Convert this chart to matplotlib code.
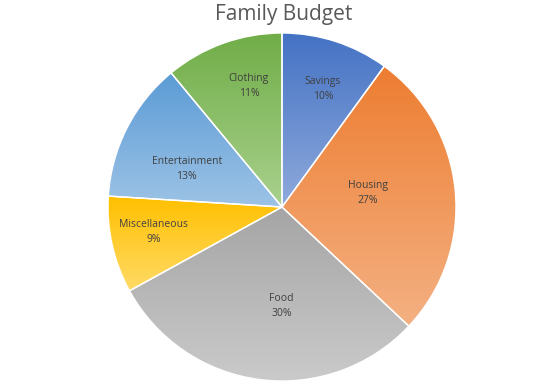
import numpy as np
import matplotlib
matplotlib.use("Agg")
import matplotlib.pyplot as plt
from matplotlib.colors import LinearSegmentedColormap

categories = ["Savings", "Housing", "Food", "Miscellaneous", "Entertainment", "Clothing"]
shares = [10, 27, 30, 9, 13, 11]

# gradient colours per slice: top (dark) -> bottom (light)
top_colors = ["#4472C4", "#ED7D31", "#A5A5A5", "#FFC000", "#5B9BD5", "#70AD47"]
bottom_colors = ["#8FAADC", "#F4B183", "#CACACA", "#FFDA66", "#9DC3E6", "#A9D18E"]
# label placement: fraction of radius and angle nudge (degrees) from slice middle
label_dist = [0.72, 0.50, 0.57, 0.75, 0.59, 0.72]
label_turn = [-1, 4, 7, -1.5, 5, -4.5]

plt.rcParams['font.family'] = ['Open Sans', 'DejaVu Sans']

fig = plt.figure(figsize=(5.6, 3.87), dpi=100)
ax = fig.add_axes([0, 0, 1, 1])

cx, cy, r = 282, 180, 174
wedges, _ = ax.pie(shares, startangle=90, counterclock=False, radius=r,
                   center=(cx, cy), frame=True,
                   wedgeprops=dict(edgecolor='white', linewidth=1.0))

for w, c1, c2, cat, pct, d, turn in zip(wedges, top_colors, bottom_colors,
                                         categories, shares, label_dist, label_turn):
    w.set_facecolor('none')
    bb = w.get_path().get_extents(w.get_transform() + ax.transData.inverted())
    cmap = LinearSegmentedColormap.from_list(cat, [c2, c1])
    grad = np.linspace(0, 1, 256).reshape(-1, 1)
    im = ax.imshow(grad, cmap=cmap, origin='lower', aspect='auto',
                   extent=(bb.x0, bb.x1, bb.y0, bb.y1), zorder=1)
    im.set_clip_path(w)
    w.set_zorder(2)
    ang = np.deg2rad((w.theta1 + w.theta2) / 2 + turn)
    tx = cx + d * r * np.cos(ang)
    ty = cy + d * r * np.sin(ang)
    ax.text(tx, ty, f"{cat}\n{pct}%", ha='center', va='center', fontsize=7.5,
            color='#404040', linespacing=1.5, zorder=3)

ax.set_xlim(0, 560)
ax.set_ylim(0, 387)
ax.set_aspect('equal')
ax.axis('off')

fig.text(0.507, 0.962, "Family Budget", ha='center', va='center',
         fontsize=15, color='#595959')

fig.savefig("out.png", dpi=100)
